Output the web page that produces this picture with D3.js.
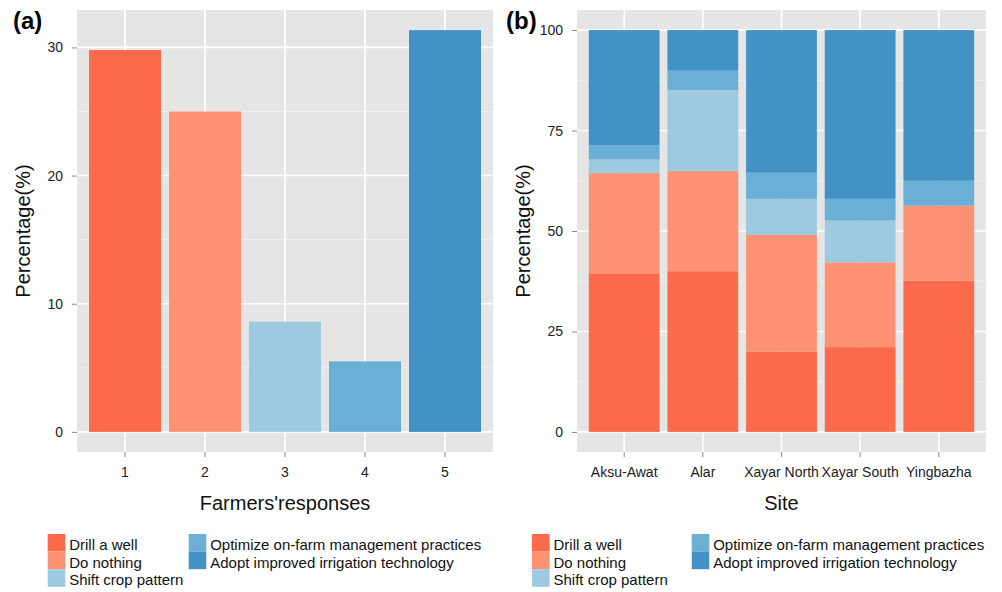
<!DOCTYPE html>
<html>
<head>
<meta charset="utf-8">
<script src="https://cdnjs.cloudflare.com/ajax/libs/d3/7.8.5/d3.min.js"></script>
<style>
  body { margin: 0; background: #fff; }
  text { font-family: "Liberation Sans", Arial, sans-serif; }
  .tick text { fill: #222; font-size: 14px; }
  .tick line { stroke: #8a8a8a; }
  .domain { display: none; }
</style>
</head>
<body>
<div id="chart-area"></div>
<script>
/* chart data */
var responses = ["1", "2", "3", "4", "5"];
var responseShare = [29.8, 25.0, 8.6, 5.5, 31.35];

var sites = ["Aksu-Awat", "Alar", "Xayar North", "Xayar South", "Yingbazha"];
var drillWell    = [39.3, 40.0, 20.0, 21.1, 37.6];
var doNothing    = [25.1, 24.9, 29.0, 21.1, 18.7];
var shiftCrop    = [3.4, 20.2, 9.0, 10.4, 0.0];
var optimizeFarm = [3.6, 4.8, 6.5, 5.4, 6.2];
var adoptIrrig   = [28.6, 10.1, 35.5, 42.0, 37.5];

var categories = ["Drill a well", "Do nothing", "Shift crop pattern",
                  "Optimize on-farm management practices", "Adopt improved irrigation technology"];
var colours = ["#fb6a4a", "#fc9272", "#9ecae1", "#6baed6", "#4292c6"];

var ticksA = [0, 10, 20, 30];
var minorA = [5, 15, 25];
var ticksB = [0, 25, 50, 75, 100];
var minorB = [12.5, 37.5, 62.5, 87.5];

var svg = d3.select("#chart-area").append("svg")
    .attr("width", 1002)
    .attr("height", 592);

svg.append("rect").attr("width", 1002).attr("height", 592).attr("fill", "#fff");

var colour = d3.scaleOrdinal().domain(categories).range(colours);

// draws the grey panel, grid, axes and titles, returns scales
function drawPanel(opt) {
    var x = d3.scaleBand()
        .domain(opt.cats)
        .range([opt.left, opt.right])
        .paddingInner(0.1)
        .paddingOuter(0.15);
    var y = d3.scaleLinear().domain(opt.yDomain).range([452, 10]);

    var g = svg.append("g");

    g.append("rect")
        .attr("x", opt.left)
        .attr("y", 10)
        .attr("width", opt.right - opt.left)
        .attr("height", 442)
        .attr("fill", "#e5e5e5");

    // minor grid
    g.selectAll(".minor").data(opt.minor).enter().append("line")
        .attr("x1", opt.left).attr("x2", opt.right)
        .attr("y1", function(d) { return y(d); })
        .attr("y2", function(d) { return y(d); })
        .attr("stroke", "#f2f2f2").attr("stroke-width", 0.8);

    // major grid
    g.selectAll(".major").data(opt.ticks).enter().append("line")
        .attr("x1", opt.left).attr("x2", opt.right)
        .attr("y1", function(d) { return y(d); })
        .attr("y2", function(d) { return y(d); })
        .attr("stroke", "#fff").attr("stroke-width", 1.6);

    g.selectAll(".vgrid").data(opt.cats).enter().append("line")
        .attr("x1", function(d) { return x(d) + x.bandwidth() / 2; })
        .attr("x2", function(d) { return x(d) + x.bandwidth() / 2; })
        .attr("y1", 10).attr("y2", 452)
        .attr("stroke", "#fff").attr("stroke-width", 1.6);

    var yAxisCall = d3.axisLeft(y).tickValues(opt.ticks).tickSize(5).tickPadding(9);
    g.append("g")
        .attr("class", "y axis")
        .attr("transform", "translate(" + opt.left + ",0)")
        .call(yAxisCall);

    var xAxisCall = d3.axisBottom(x).tickSize(5).tickPadding(10);
    opt.xAxis = g.append("g")
        .attr("class", "x axis")
        .attr("transform", "translate(0,452)")
        .call(xAxisCall);

    // titles
    g.append("text")
        .attr("transform", "translate(" + opt.yTitleX + "," + 231 + ") rotate(-90)")
        .attr("text-anchor", "middle")
        .attr("font-size", "20px")
        .attr("fill", "#111")
        .text("Percentage(%)");

    g.append("text")
        .attr("x", (opt.left + opt.right) / 2)
        .attr("y", 510)
        .attr("text-anchor", "middle")
        .attr("font-size", "20px")
        .attr("fill", "#111")
        .text(opt.xTitle);

    g.append("text")
        .attr("x", opt.labelX)
        .attr("y", 29)
        .attr("font-size", "24px")
        .attr("font-weight", "bold")
        .attr("fill", "#000")
        .text(opt.label);

    // legend, two columns
    var leg = g.append("g");
    var cols = [[0, 1, 2], [3, 4]];
    cols.forEach(function(idx, c) {
        idx.forEach(function(i, r) {
            var kx = opt.legX[c], ky = 534 + r * 17.6;
            leg.append("rect")
                .attr("x", kx).attr("y", ky)
                .attr("width", 17.6).attr("height", 17.6)
                .attr("fill", colour(categories[i]));
            leg.append("text")
                .attr("x", kx + 21.5)
                .attr("y", ky + 16)
                .attr("font-size", "15px")
                .attr("fill", "#111")
                .text(categories[i]);
        });
    });

    return { x: x, y: y, g: g };
}

/* ---------- panel (a) ---------- */
var pa = drawPanel({
    cats: responses, left: 77, right: 493,
    yDomain: [-1.57, 32.92], ticks: ticksA, minor: minorA,
    xTitle: "Farmers'responses", yTitleX: 29.5,
    label: "(a)", labelX: 13, legX: [47.7, 188.7]
});

var dataA = responses.map(function(r, i) {
    return { resp: r, value: responseShare[i], cat: categories[i] };
});

pa.g.selectAll(".barA").data(dataA).enter().append("rect")
    .attr("class", "barA")
    .attr("x", function(d) { return pa.x(d.resp); })
    .attr("width", pa.x.bandwidth())
    .attr("y", function(d) { return pa.y(d.value); })
    .attr("height", function(d) { return pa.y(0) - pa.y(d.value); })
    .attr("fill", function(d) { return colour(d.cat); });

/* ---------- panel (b) ---------- */
var pb = drawPanel({
    cats: sites, left: 577, right: 986,
    yDomain: [-5, 105], ticks: ticksB, minor: minorB,
    xTitle: "Site", yTitleX: 529.5,
    label: "(b)", labelX: 506, legX: [532, 691.7]
});
pb.g.selectAll(".y.axis .tick text").attr("font-size", "14px");

var series = [drillWell, doNothing, shiftCrop, optimizeFarm, adoptIrrig];
var table = sites.map(function(s, i) {
    var row = { site: s };
    categories.forEach(function(c, k) { row[c] = series[k][i]; });
    return row;
});

var stacked = d3.stack().keys(categories)(table);

pb.g.selectAll(".layer").data(stacked).enter().append("g")
    .attr("class", "layer")
    .attr("fill", function(d) { return colour(d.key); })
  .selectAll("rect").data(function(d) { return d; }).enter().append("rect")
    .attr("x", function(d) { return pb.x(d.data.site); })
    .attr("width", pb.x.bandwidth())
    .attr("y", function(d) { return pb.y(d[1]); })
    .attr("height", function(d) { return pb.y(d[0]) - pb.y(d[1]); });
</script>
</body>
</html>
